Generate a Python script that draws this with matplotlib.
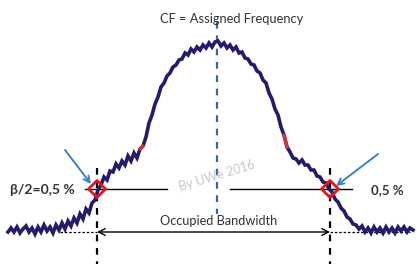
import matplotlib
matplotlib.use("Agg")
import matplotlib.pyplot as plt

# Spectrum trace (pixel-like units, y grows downward)
freq = [8, 11, 14, 17, 20, 23, 26, 29, 32, 35, 38, 41, 44, 47, 50, 53, 56, 59, 62, 65,
        68, 71, 74, 77, 80, 83, 86, 89, 92, 95, 98, 101, 104, 107, 110, 113, 116, 119, 122, 125,
        128, 131, 134, 137, 140, 143, 146, 149, 152, 155, 158, 161, 164, 167, 170, 173, 176, 179, 182, 185,
        188, 191, 194, 197, 200, 203, 206, 209, 212, 215, 218, 221, 224, 227, 230, 233, 236, 239, 242, 245,
        248, 251, 254, 257, 260, 263, 266, 269, 272, 275, 278, 281, 284, 287, 290, 293, 296, 299, 302, 305,
        308, 311, 314, 317, 320, 323, 326, 329, 332, 335, 338, 341, 344, 347, 350, 353, 356, 359, 362, 365,
        368, 371, 374, 377, 380, 383, 386, 389, 392, 395, 398, 401, 404, 407, 410, 413]
level = [232, 228, 232, 227, 233, 229, 226, 232, 228, 234, 227, 232, 225, 231, 227, 233, 225, 230, 223, 229,
         221, 226, 218, 223, 214, 219, 209, 213, 203, 200, 190, 185, 177, 180, 171, 172, 164, 168, 161, 165,
         156, 161, 153, 158, 149, 146, 137, 123, 115, 104, 97, 87, 83, 76, 73, 67, 65, 60, 59, 53,
         55, 49, 52, 47, 50, 45, 48, 43, 47, 42, 41, 46, 43, 48, 45, 50, 47, 53, 52, 58,
         59, 64, 65, 71, 73, 80, 83, 93, 99, 109, 115, 127, 135, 147, 152, 158, 159, 163, 160, 165,
         165, 170, 170, 176, 177, 182, 183, 189, 192, 199, 202, 208, 211, 217, 219, 224, 225, 229, 226, 232,
         228, 233, 227, 232, 228, 233, 227, 232, 228, 233, 227, 231, 227, 232, 228, 230]

cf = 217            # assigned frequency
edges = [97, 330]   # 0.5 % points
beta_level = 189
base_level = 232

fig = plt.figure(figsize=(4.17, 2.64), dpi=100)
ax = fig.add_axes([0, 0, 1, 1])
ax.set_xlim(0, 417)
ax.set_ylim(264, 0)
ax.axis("off")

navy = "#221c6b"
blue = "#3b82c4"

# centre dashed line
ax.plot([cf, cf], [22, 214], color="#3a66a0", lw=1.6, ls=(0, (3, 3)), zorder=1)

# beta/2 horizontal line (with gap for watermark)
ax.plot([edges[0] - 12, 167], [beta_level, beta_level], color="black", lw=1.0, zorder=2)
ax.plot([230, edges[1] + 22], [beta_level, beta_level], color="black", lw=1.0, zorder=2)

# vertical dashed lines at edges
for e in edges:
    ax.plot([e, e], [168, 264], color="black", lw=1.6, ls=(0, (3, 3)), zorder=2)

# dotted baseline extensions
ax.plot([60, edges[0]], [base_level, base_level], color="black", lw=0.9, ls=(0, (2, 1.5)), zorder=2)
ax.plot([edges[1], 410], [base_level, base_level], color="black", lw=0.9, ls=(0, (2, 1.5)), zorder=2)

# spectrum
ax.plot(freq, level, color=navy, lw=2.6, solid_joinstyle="miter", zorder=3)
# small red highlights on trace
i1 = freq.index(140)
i2 = freq.index(284)
ax.plot(freq[i1:i1 + 2], level[i1:i1 + 2], color="#e03030", lw=2.2, zorder=4)
ax.plot(freq[i2:i2 + 2], level[i2:i2 + 2], color="#e03030", lw=2.2, zorder=4)

# red diamonds
ax.scatter(edges, [beta_level] * 2, marker="D", s=75, facecolors="none",
           edgecolors="#e8141c", linewidths=2.0, zorder=5)

# occupied bandwidth double arrow
ax.annotate("", xy=(edges[0], base_level), xytext=(edges[1], base_level),
            arrowprops=dict(arrowstyle="<->", color="black", lw=1.0,
                            mutation_scale=12, shrinkA=0, shrinkB=0), zorder=4)

# blue arrows
ax.annotate("", xy=(91, 184), xytext=(65, 150),
            arrowprops=dict(arrowstyle="->", color=blue, lw=1.4, mutation_scale=11,
                            shrinkA=0, shrinkB=0))
ax.annotate("", xy=(336, 186), xytext=(378, 154),
            arrowprops=dict(arrowstyle="->", color=blue, lw=1.4, mutation_scale=11,
                            shrinkA=0, shrinkB=0))

fam = ["Lato", "DejaVu Sans"]
ax.text(232, 19, "CF = Assigned Frequency", ha="center", va="center", fontsize=9.3,
        family=fam, color="#333333")
ax.text(42, 190, "β/2=0,5 %", ha="center", va="center", fontsize=10, family=fam,
        fontweight="bold", color="#333333")
ax.text(387, 190, "0,5 %", ha="center", va="center", fontsize=9.5, family=fam,
        fontweight="bold", color="#333333")
ax.text(219, 221, "Occupied Bandwidth", ha="center", va="center", fontsize=9.2,
        family=fam, color="#333333")
ax.text(217, 176, "By UWe 2016", ha="center", va="center", fontsize=9, family=fam,
        color="#c8c8c8", rotation=17)

fig.savefig("out.png", dpi=100)
